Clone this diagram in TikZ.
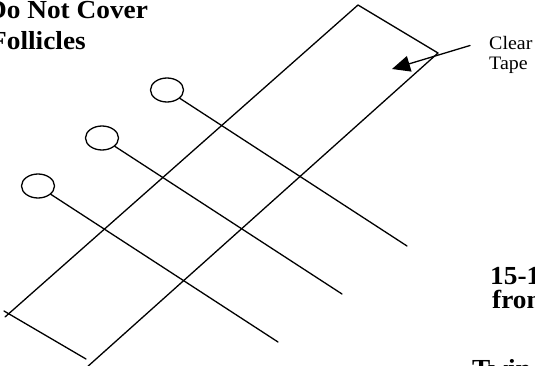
\documentclass[tikz,border=0pt]{standalone}
\usepackage{fontspec}
\setmainfont{Liberation Serif}
\usetikzlibrary{arrows.meta, shapes.geometric, positioning}

\newcommand{\wide}[1]{\scalebox{1.05}[1]{#1}}

\begin{document}
\begin{tikzpicture}[
  x=1pt,y=-1pt,
  line cap=round,line join=round,
  edge/.style={line width=1.3pt},
  follicle/.style={ellipse, draw, line width=1.3pt, minimum width=33pt,
    minimum height=24pt, inner sep=0pt},
  heading/.style={font=\fontsize{26}{28}\selectfont\bfseries,
    inner sep=0pt, anchor=base west},
  small/.style={font=\fontsize{19}{21}\selectfont, inner sep=0pt,
    anchor=base west}
]
  \useasboundingbox (0,0) rectangle (535,366);
  \clip (0,0) rectangle (535,366);

  % Clear tape
  \coordinate (top) at (358,5);
  \coordinate (right) at (438,53);
  \coordinate (left) at (8,314);
  \draw[edge] (5,317) -- (top) -- (right) -- (86,368);
  \draw[edge] (4,311) -- (86,359);

  % Follicles and hairs
  \foreach \i/\x/\y in {1/167/90,2/102/138,3/38/186}{
    \node[follicle] (f\i) at (\x,\y) {};
    \coordinate (h\i) at (\x+240,\y+156);
    \draw[edge] (f\i) -- (h\i);
  }

  % Labels
  \node[heading] (cover) at (-13,19) {\wide{Do Not Cover}};
  \node[heading] (foll) at (-10,50) {\wide{Follicles}};

  \node[small] (clear) at (489,50) {\wide{Clear}};
  \node[small] (tape) at ([yshift=-20pt]clear.base west) {\wide{Tape}};
  \coordinate (tip) at (392,69);
  \draw[edge, -{Triangle[length=18pt, width=16pt]}]
    ([xshift=-19pt,yshift=-2pt]clear.west) -- (tip);

  \node[heading] (num) at (490,284) {\wide{15-1}};
  \node[heading] (from) at ([xshift=2pt,yshift=-24pt]num.base west) {\wide{from}};
  \node[heading] (twin) at (472,377) {\wide{Twin}};
\end{tikzpicture}
\end{document}
